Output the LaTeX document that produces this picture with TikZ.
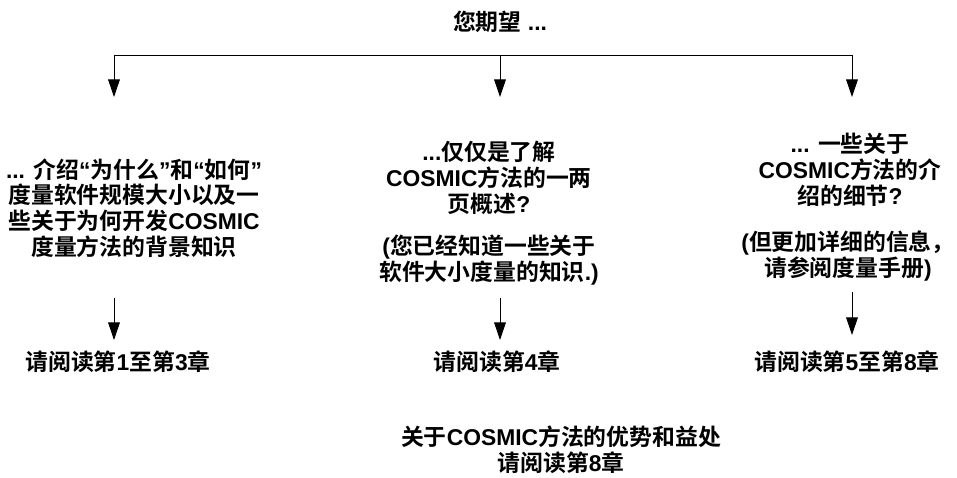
\documentclass[tikz,border=0pt]{standalone}
\usepackage{fontspec}
\setmainfont{Noto Sans CJK SC}[BoldFont={Noto Sans CJK SC Bold}]
\newfontfamily\latinfont{Liberation Sans}
\newcommand{\lt}[1]{{\latinfont #1}}
\usetikzlibrary{arrows.meta}

\begin{document}
\begin{tikzpicture}[x=0.03cm,y=-0.03cm]
    		\newcommand{\barY}{55}   % height of the bar
    		\newcommand{\tipY}{97}   % tips of the upper arrows
    		\newcommand{\lowY}{298}  % start of the lower arrows
    		\newcommand{\lowtip}{340}
    	
    		% set the styles
    		\tikzset{
    			txt/.style={
    				font=\bfseries\fontsize{19.5}{22}\selectfont,
    				align=center,
    				inner sep=0pt
    				},
    			down/.style={
    				-{Triangle[length=15pt,width=10pt]},
    				line width=0.8pt
    				}
    		}
    		
    		\useasboundingbox (0,0) rectangle (957,477);
    		
    		% title
    		\node[txt] (title) at (500,22) {您期望\lt{ ...}};
    		
    		% bar and upper arrows
    		\coordinate (b1) at (114,\barY);
    		\coordinate (b2) at (500,\barY);
    		\coordinate (b3) at (852,\barY);
    		\coordinate (t1) at (114,\tipY);
    		\coordinate (t2) at (500,\tipY);
    		\coordinate (t3) at (852,\tipY);
    		\draw[line width=0.8pt] (b1) -- (b3);
    		\draw[down] (b1) -- (t1);
    		\draw[down] (b2) -- (t2);
    		\draw[down] (b3) -- (t3);
    		
    		% questions
    		\node[txt] (q1) at (134,208) {\lt{... }介绍\lt{“}为什么\lt{”}和\lt{“}如何\lt{”}\\度量软件规模大小以及一\\些关于为何开发\lt{COSMIC}\\度量方法的背景知识};
    		\node[txt] (q2) at (489,178) {\lt{...}仅仅是了解\\\lt{COSMIC}方法的一两\\页概述\lt{?}};
    		\node[txt] (q2b) at (489,260) {\lt{(}您已经知道一些关于\\软件大小度量的知识\lt{.)}};
    		\node[txt] (q3) at (850,170) {\lt{... }一些关于\\\lt{COSMIC}方法的介\\绍的细节\lt{?}};
    		\node[txt] (q3b) at (848,256) {\lt{(}但更加详细的信息，\\请参阅度量手册\lt{)}};
    		
    		% lower arrows
    		\coordinate (l1) at (114,\lowY);
    		\coordinate (l2) at (500,\lowY);
    		\coordinate (l3) at (852,\lowY-6);
    		\coordinate (e1) at (114,\lowtip);
    		\coordinate (e2) at (500,\lowtip);
    		\coordinate (e3) at (852,\lowtip-5);
    		\draw[down] (l1) -- (e1);
    		\draw[down] (l2) -- (e2);
    		\draw[down] (l3) -- (e3);
    		
    		% chapters
    		\node[txt] (r1) at (118,362) {请阅读第\lt{1}至第\lt{3}章};
    		\node[txt] (r2) at (497,362) {请阅读第\lt{4}章};
    		\node[txt] (r3) at (847,362) {请阅读第\lt{5}至第\lt{8}章};
    		
    		\node[txt] (note) at (561,450) {关于\lt{COSMIC}方法的优势和益处\\请阅读第\lt{8}章};
\end{tikzpicture}
\end{document}
